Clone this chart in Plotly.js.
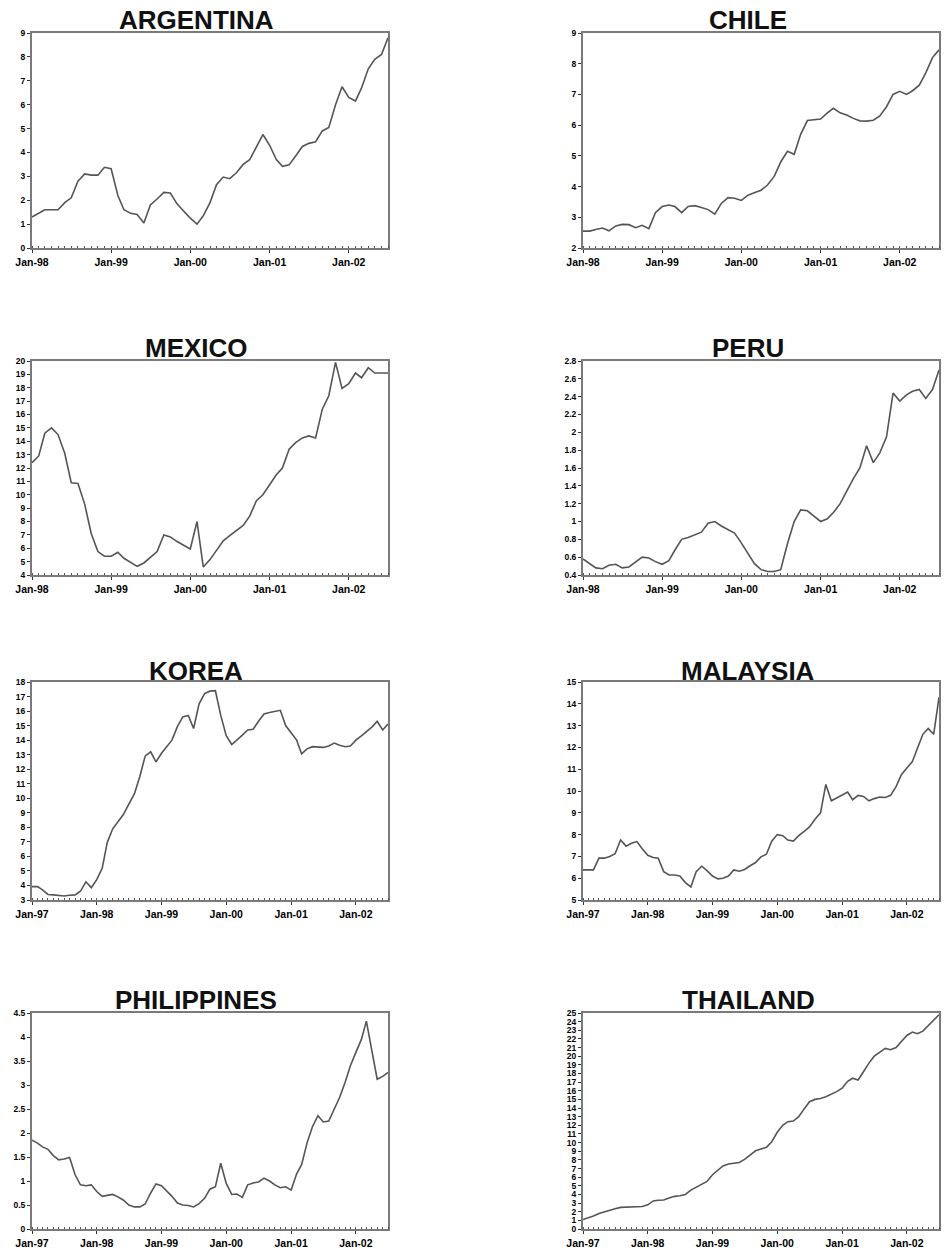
<!DOCTYPE html>
<html>
<head>
<meta charset="utf-8">
<script src="https://cdn.plot.ly/plotly-3.0.1.min.js"></script>
<style>
  html, body { margin: 0; padding: 0; background: #ffffff; }
  #chart { width: 947px; height: 1257px; }
</style>
</head>
<body>
<div id="chart"></div>
<script>
// ---- Data (monthly) ----
const countries = ["ARGENTINA", "CHILE", "MEXICO", "PERU", "KOREA", "MALAYSIA", "PHILIPPINES", "THAILAND"];
const startMonths = ["1998-01", "1998-01", "1998-01", "1998-01", "1997-01", "1997-01", "1997-01", "1997-01"];

const argentina = [1.3,1.45,1.6,1.6,1.6,1.9,2.1,2.8,3.1,3.05, 3.05,3.38,3.32,2.2,1.6,1.45,1.4,1.05,1.8,2.05,
  2.33,2.3,1.85,1.55,1.25,1.0,1.35,1.9,2.65,2.97, 2.9,3.15,3.5,3.7,4.25,4.75,4.3,3.7,3.42,3.48,
  3.85,4.25,4.38,4.45,4.9,5.05,6.0,6.75,6.3,6.15, 6.7,7.5,7.9,8.1,8.8];
const chile = [2.55,2.55,2.6,2.65,2.56,2.72,2.77,2.76,2.66,2.74, 2.63,3.15,3.35,3.4,3.35,3.15,3.35,3.38,3.32,3.25,
  3.1,3.45,3.64,3.62,3.55,3.72,3.8,3.88,4.05,4.33, 4.8,5.15,5.05,5.7,6.15,6.17,6.2,6.4,6.55,6.4,
  6.33,6.22,6.14,6.13,6.16,6.3,6.6,7.0,7.1,7.0, 7.12,7.3,7.7,8.2,8.45];
const mexico = [12.4,12.9,14.6,15.0,14.5,13.1,10.9,10.85,9.3,7.1, 5.75,5.4,5.4,5.7,5.25,4.95,4.65,4.9,5.3,5.75,
  7.0,6.85,6.5,6.2,5.95,8.0,4.6,5.15,5.85,6.55, 6.95,7.3,7.7,8.4,9.55,10.0,10.8,11.5,12.0,13.4,
  13.9,14.25,14.4,14.25,16.4,17.4,19.9,17.95,18.3,19.1, 18.75,19.5,19.1,19.1,19.1];
const peru = [0.58,0.53,0.48,0.47,0.51,0.52,0.48,0.49,0.55,0.6, 0.59,0.55,0.52,0.56,0.68,0.8,0.82,0.85,0.88,0.98,
  1.0,0.95,0.91,0.87,0.76,0.64,0.53,0.46,0.44,0.44, 0.46,0.75,1.0,1.13,1.12,1.06,1.0,1.03,1.1,1.2,
  1.34,1.48,1.6,1.85,1.66,1.77,1.95,2.44,2.35,2.42, 2.46,2.48,2.38,2.48,2.7];
const korea = [3.92,3.92,3.7,3.38,3.35,3.3,3.28,3.33,3.35,3.6, 4.25,3.85,4.4,5.2,6.95,7.9,8.4,8.9,9.6,10.3,
  11.5,12.9,13.2,12.5,13.1,13.55,14.0,14.95,15.6,15.7, 14.8,16.5,17.2,17.37,17.4,15.7,14.3,13.7,14.0,14.35,
  14.7,14.75,15.3,15.8,15.9,15.95,16.05,15.0,14.5,14.0, 13.05,13.4,13.55,13.5,13.5,13.6,13.8,13.65,13.55,13.6,
  14.0,14.3,14.6,14.9,15.3,14.7,15.1];
const malaysia = [6.38,6.38,6.38,6.92,6.92,7.0,7.12,7.75,7.47,7.6, 7.68,7.35,7.05,6.95,6.92,6.3,6.15,6.15,6.1,5.8,
  5.6,6.3,6.55,6.35,6.1,5.97,6.0,6.1,6.38,6.32, 6.4,6.57,6.72,6.98,7.1,7.7,8.0,7.95,7.75,7.7,
  7.95,8.15,8.35,8.7,9.0,10.3,9.55,9.68,9.8,9.95, 9.6,9.8,9.75,9.55,9.65,9.72,9.7,9.8,10.2,10.75,
  11.05,11.35,11.95,12.6,12.87,12.6,14.3];
const philippines = [1.85,1.79,1.71,1.66,1.53,1.44,1.46,1.49,1.13,0.92, 0.9,0.92,0.78,0.68,0.7,0.72,0.67,0.6,0.5,0.46,
  0.46,0.52,0.75,0.94,0.9,0.79,0.68,0.54,0.5,0.49, 0.46,0.53,0.64,0.83,0.88,1.37,0.95,0.72,0.73,0.66,
  0.92,0.96,0.98,1.06,1.0,0.92,0.86,0.88,0.81,1.15, 1.34,1.8,2.13,2.36,2.23,2.25,2.49,2.74,3.05,3.4,
  3.68,3.95,4.33,3.7,3.12,3.18,3.26];
const thailand = [1.1,1.3,1.5,1.8,2.0,2.2,2.35,2.5,2.52,2.52, 2.52,2.6,2.8,3.25,3.32,3.36,3.6,3.78,3.85,4.0,
  4.5,4.85,5.15,5.5,6.28,6.85,7.3,7.52,7.6,7.7, 8.05,8.6,9.05,9.25,9.45,10.1,11.2,12.0,12.42,12.5,
  13.0,13.9,14.73,15.0,15.1,15.3,15.6,15.9,16.3,17.1, 17.45,17.25,18.2,19.2,20.0,20.4,20.9,20.75,21.0,21.7,
  22.4,22.8,22.6,22.9,23.5,24.2,24.8];

const seriesList = [argentina, chile, mexico, peru, korea, malaysia, philippines, thailand];
// y-axis ranges and tick steps
const yMin  = [0, 2, 4, 0.4, 3, 5, 0, 0];
const yMax  = [9, 9, 20, 2.8, 18, 15, 4.5, 25];
const yStep = [1, 1, 1, 0.2, 1, 1, 0.5, 1];

// ---- helpers ----
function monthSeries(start, n) {
  let [y, m] = start.split("-").map(Number);
  const out = [];
  for (let i = 0; i < n; i++) {
    out.push(y + "-" + String(m).padStart(2, "0") + "-01");
    m++; if (m > 12) { m = 1; y++; }
  }
  return out;
}

// ---- layout geometry (pixels in a 947x1257 page) ----
const W = 947, H = 1257;
const colX = [[32, 388], [583, 939]];
const rowY = [[33, 248], [361, 575], [682, 900], [1013, 1229]];
const titleY = [20, 348, 671, 1000];
const titleX = [196, 748];

const fontFam = "Liberation Sans, Arial, Helvetica, sans-serif";
const traces = [];
const layout = {
  width: W, height: H,
  margin: {l: 0, r: 0, t: 0, b: 0},
  paper_bgcolor: "#ffffff",
  plot_bgcolor: "#ffffff",
  showlegend: false,
  annotations: []
};

seriesList.forEach((vals, k) => {
  const row = Math.floor(k / 2), col = k % 2;
  const xs = monthSeries(startMonths[k], vals.length);
  const suffix = k === 0 ? "" : String(k + 1);
  traces.push({
    type: "scatter", mode: "lines",
    x: xs, y: vals,
    xaxis: "x" + suffix, yaxis: "y" + suffix,
    line: {color: "#555555", width: 1.6},
    hoverinfo: "skip"
  });
  const xd = [colX[col][0] / W, colX[col][1] / W];
  const yd = [1 - rowY[row][1] / H, 1 - rowY[row][0] / H];
  layout["xaxis" + suffix] = {
    domain: xd, anchor: "y" + suffix, type: "date",
    range: [xs[0], xs[xs.length - 1]],
    tick0: xs[0], dtick: "M12", tickformat: "%b-%y",
    ticks: "outside", ticklen: 3, tickwidth: 1, tickcolor: "#333",
    minor: {dtick: "M1", ticks: "inside", ticklen: 2, tickcolor: "#555", tickwidth: 1},
    showgrid: false, zeroline: false,
    showline: true, linecolor: "#7a7a7a", linewidth: 2, mirror: true,
    tickfont: {family: fontFam, size: 10.5, color: "#000", weight: "bold"},
    fixedrange: true
  };
  layout["yaxis" + suffix] = {
    domain: yd, anchor: "x" + suffix,
    range: [yMin[k], yMax[k]], tick0: yMin[k], dtick: yStep[k],
    ticks: "outside", ticklen: 3, tickwidth: 1, tickcolor: "#333",
    showgrid: false, zeroline: false,
    showline: true, linecolor: "#7a7a7a", linewidth: 2, mirror: true,
    tickfont: {family: fontFam, size: 8.5, color: "#000", weight: "bold"},
    fixedrange: true
  };
  layout.annotations.push({
    text: countries[k], xref: "paper", yref: "paper",
    x: titleX[col] / W, y: 1 - titleY[row] / H,
    xanchor: "center", yanchor: "middle", showarrow: false,
    font: {family: fontFam, size: 26, color: "#111", weight: "bold"}
  });
});

Plotly.newPlot("chart", traces, layout, {staticPlot: true, displayModeBar: false});
</script>
</body>
</html>
